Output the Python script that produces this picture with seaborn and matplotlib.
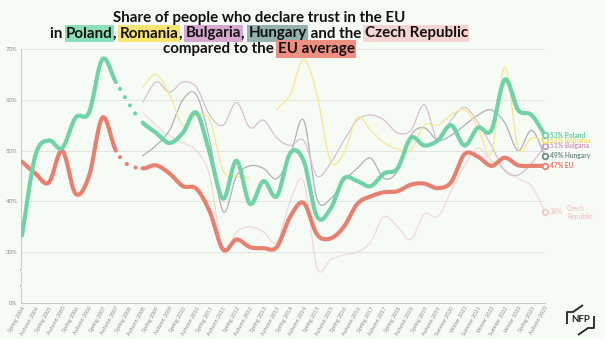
import numpy as np
import matplotlib
matplotlib.use("Agg")
import matplotlib.pyplot as plt
import matplotlib.transforms as mtransforms
from matplotlib.lines import Line2D
import seaborn as sns

# ---- survey waves (x axis) ----
waves = [
    "Spring 2004", "Autumn 2004", "Spring 2005", "Autumn 2005", "Spring 2006",
    "Autumn 2006", "Spring 2007", "Autumn 2007", "Spring 2008", "Autumn 2008",
    "Spring 2009", "Autumn 2009", "Spring 2010", "Autumn 2010", "Spring 2011",
    "Autumn 2011", "Spring 2012", "Autumn 2012", "Spring 2013", "Autumn 2013",
    "Spring 2014", "Autumn 2014", "Spring 2015", "Autumn 2015", "Spring 2016",
    "Autumn 2016", "Spring 2017", "Autumn 2017", "Spring 2018", "Autumn 2018",
    "Spring 2019", "Autumn 2019", "Summer 2020", "Winter 2021", "Summer 2021",
    "Winter 2022", "Summer 2022", "Winter 2023", "Spring 2023", "Autumn 2023",
]

nan = np.nan
# ---- trust in the EU, % of respondents ----
poland = [33.3, 49, 52, 50.5, 56.5, 57.5, 68, 63.5, nan, 55.5,
          53.5, 51.5, 53.5, 57.5, 49.5, 40.5, 48, 39.5, 44, 41,
          49.5, 48, 37, 38.5, 44.5, 44, 43, 45.5, 46.5, 52.5,
          51, 52, 55, 51, 54.5, 54, 64, 58, 57, 53]
eu_avg = [47.8, 45.5, 43.7, 50, 41.5, 45, 56.5, 50, nan, 46.5,
          47.1, 45.5, 43, 42.5, 38, 30.5, 32.5, 31, 30.8, 31,
          37, 39.7, 33.5, 32.7, 35, 39.5, 41, 41.8, 42, 43.3,
          43.5, 42.6, 43.8, 49.3, 48.8, 47, 48.6, 47.1, 47, 47]
romania = [nan] * 9 + [62.5, 65, 61, 55, 57, 56, 46, 45, 44.8, nan, 58,
                       61, 68, 61, 48, 49.5, 56.5, 54, 51.5, 50.3, 50.1,
                       55, 55, 57, 58, 54.5, 49.5, 66.5, 50.5, 52.5, 52]
bulgaria = [nan] * 9 + [59.5, 63.5, 61.5, 63.5, 62.5, 57, 55, 59.5, 54.5, 56,
                        52.5, 51, 52, 45, 47.5, 52, 56, 57, 56, 53.5,
                        54, 59, 52, 56, 58.5, 55.5, 51, 46, 45.2, 47.5, 51]
hungary = [nan] * 9 + [49, 51, 54, 60, 61, 52, 38, 45, 47, 46.5,
                       44.5, 49, 56, 40.5, 40.5, 44, 46.5, 48.5, 44.5, 46,
                       53, 54.5, 52, 53, 55, 57, 58, 55.5, 50, 54, 49]
czech = [nan] * 9 + [57.5, 55, 53, 51.5, 50, 45, 30, 34, 35, 34,
                     32, 40, 44, 27, 28.5, 29.5, 30, 32, 37, 35,
                     32.5, 37.5, 37, 42, 47, 50.5, 48, 46.3, 44.5, 43, 38]

series_names = ["Czech Republic", "Hungary", "Bulgaria", "Romania", "EU", "Poland"]
series_vals = [czech, hungary, bulgaria, romania, eu_avg, poland]
line_colors = ["#efd9d6", "#aeb0b6", "#d8bfd2", "#f5e88c", "#e8806f", "#6fd3a6"]
line_widths = [0.9, 0.9, 0.9, 0.9, 3.0, 3.0]
bridge_gap = [False, False, False, False, True, True]
label_colors = ["#efc9c5", "#6f8886", "#c995c1", "#f1df63", "#e06f5e", "#5ccb9b"]

BG = "#f7fbf6"
W, H = 605, 339

sns.set_theme(style="white")
plt.rcParams["font.family"] = ["Lato", "DejaVu Sans"]

fig = plt.figure(figsize=(W / 100, H / 100), dpi=100, facecolor=BG)
ax = fig.add_axes([21.3 / W, 36 / H, (545 - 21.3) / W, 254 / H])
ax.set_facecolor(BG)


def hermite_curve(xv, yv, steps=14):
    """Smooth cubic Hermite pieces through the points; returns list of (x, y, is_gap)."""
    xv = np.asarray(xv, float)
    yv = np.asarray(yv, float)
    m = np.gradient(yv, xv)
    pieces = []
    t = np.linspace(0, 1, steps)
    h00 = 2 * t**3 - 3 * t**2 + 1
    h10 = t**3 - 2 * t**2 + t
    h01 = -2 * t**3 + 3 * t**2
    h11 = t**3 - t**2
    for i in range(len(xv) - 1):
        h = xv[i + 1] - xv[i]
        yy = h00 * yv[i] + h10 * h * m[i] + h01 * yv[i + 1] + h11 * h * m[i + 1]
        pieces.append((xv[i] + t * h, yy, h > 1.5))
    return pieces


def draw_series(vals, color, lw, bridge):
    vals = np.asarray(vals, float)
    idx = np.arange(len(vals))
    ok = ~np.isnan(vals)
    xv, yv = idx[ok], vals[ok]
    pieces = hermite_curve(xv, yv)
    # merge consecutive solid pieces into runs
    runs, cur = [], None
    for px, py, gap in pieces:
        if gap:
            if cur is not None:
                runs.append(("solid", cur))
                cur = None
            if bridge:
                runs.append(("dot", (px, py)))
        else:
            if cur is None:
                cur = (px, py)
            else:
                cur = (np.concatenate([cur[0], px[1:]]), np.concatenate([cur[1], py[1:]]))
    if cur is not None:
        runs.append(("solid", cur))
    for kind, (px, py) in runs:
        if kind == "solid":
            sns.lineplot(x=px, y=py, ax=ax, color=color, lw=lw, sort=False,
                         estimator=None, solid_capstyle="round", zorder=3 if lw > 2 else 2)
        else:
            sns.lineplot(x=px[2:-2], y=py[2:-2], ax=ax, color=color, lw=lw, sort=False,
                         estimator=None, linestyle=(0, (0.01, 2.3)),
                         dash_capstyle="round", zorder=3)


for vals, c, lw, br in zip(series_vals, line_colors, line_widths, bridge_gap):
    draw_series(vals, c, lw, br)

# end markers and labels
last = len(waves) - 1
LSIZE = 4.8
for name, vals, c, lc in zip(series_names, series_vals, line_colors, label_colors):
    v = vals[-1]
    edge = lc if name not in ("EU", "Poland") else c
    ax.scatter([last], [v], s=16, facecolor=BG, edgecolor=edge, linewidth=1.3,
               zorder=5, clip_on=False)
    if name == "Czech Republic":
        ax.annotate(f"{v:.0f}%", xy=(last, v), xytext=(3.8, 0), textcoords="offset points",
                    va="center", ha="left", fontsize=LSIZE, fontweight="bold", color=lc,
                    annotation_clip=False)
        ax.annotate("Czech\nRepublic", xy=(last, v), xytext=(16, -0.5), textcoords="offset points",
                    va="center", ha="left", fontsize=LSIZE, fontweight="bold", color=lc,
                    linespacing=1.1, annotation_clip=False)
    else:
        ax.annotate(f"{v:.0f}% {name}", xy=(last, v), xytext=(3.8, 0), textcoords="offset points",
                    va="center", ha="left", fontsize=LSIZE, fontweight="bold", color=lc,
                    annotation_clip=False)

# axes styling
ax.set_xlim(-0.05, last)
ax.set_ylim(20, 70)
ax.set_yticks([20, 30, 40, 50, 60, 70])
ax.set_yticklabels(["0%", "30%", "40%", "50%", "60%", "70%"])
ax.set_xticks(range(len(waves)))
ax.set_xticklabels(waves, rotation=60, ha="right", rotation_mode="anchor")
ax.tick_params(axis="x", length=0, pad=2, labelsize=3.8, labelcolor="#8a8a8a")
ax.tick_params(axis="y", length=0, pad=3, labelsize=4.3, labelcolor="#8a8a8a")
for yv in [30, 40, 50, 60, 70]:
    ax.axhline(yv, color="#e2e4e2", lw=0.7, zorder=1)
for s in ["top", "right"]:
    ax.spines[s].set_visible(False)
for s in ["left", "bottom"]:
    ax.spines[s].set_color("#c8c8c8")
    ax.spines[s].set_linewidth(0.7)
ax.set_xlabel("")
ax.set_ylabel("")

# axis break marks
trans = mtransforms.blended_transform_factory(ax.transAxes, ax.transData)
for yb in [26.6, 23.5]:
    ax.text(0, yb, "~", transform=trans, ha="center", va="center", fontsize=5,
            color="#8a8a8a", rotation=80, zorder=4,
            bbox=dict(boxstyle="square,pad=0.05", fc=BG, ec="none"))

# ---- title with highlighted names ----
renderer = fig.canvas.get_renderer()
TSIZE = 10.9


def text_width(s):
    t1 = fig.text(0, 0, "|" + s + "|", fontsize=TSIZE, fontweight="bold")
    t2 = fig.text(0, 0, "||", fontsize=TSIZE, fontweight="bold")
    w = t1.get_window_extent(renderer).width - t2.get_window_extent(renderer).width
    t1.remove()
    t2.remove()
    return w


def rich_line(y_px, pieces, center_px=259):
    widths = [text_width(s) for s, _ in pieces]
    x = center_px - sum(widths) / 2
    for (s, col), w in zip(pieces, widths):
        kw = {}
        if col:
            kw["bbox"] = dict(boxstyle="square,pad=0.1", fc=col, ec="none")
        fig.text(x / W, 1 - y_px / H, s, ha="left", va="baseline", fontsize=TSIZE,
                 fontweight="bold", color="#111111", **kw)
        x += w


title_lines = [
    (22, [("Share of people who declare trust in the EU", None)]),
    (37.5, [("in ", None), ("Poland", "#8adfb8"), (", ", None), ("Romania", "#fbe46f"),
            (", ", None), ("Bulgaria", "#d8a9d0"), (", ", None), ("Hungary", "#96b2b0"),
            (" and the ", None), ("Czech Republic", "#f5d4d3")]),
    (53, [("compared to the ", None), ("EU average", "#ef8f81")]),
]
for y_px, pieces in title_lines:
    rich_line(y_px, pieces)

# ---- NFP mark ----
def fpx(x, y):
    return x / W, 1 - y / H


lx, ly = zip(*[fpx(*p) for p in [(567, 324), (567, 312), (573, 312), (583, 305)]])
fig.add_artist(Line2D(lx, ly, color="#222222", lw=1.3, solid_capstyle="butt"))
rx, ry = zip(*[fpx(*p) for p in [(594, 316), (594, 328), (588, 328), (578, 335)]])
fig.add_artist(Line2D(rx, ry, color="#222222", lw=1.3, solid_capstyle="butt"))
fig.text(*fpx(580.5, 319), "NFP", ha="center", va="center", fontsize=7,
         fontweight="bold", color="#222222", fontstretch="condensed")

fig.savefig("out.png", dpi=100, facecolor=BG)
